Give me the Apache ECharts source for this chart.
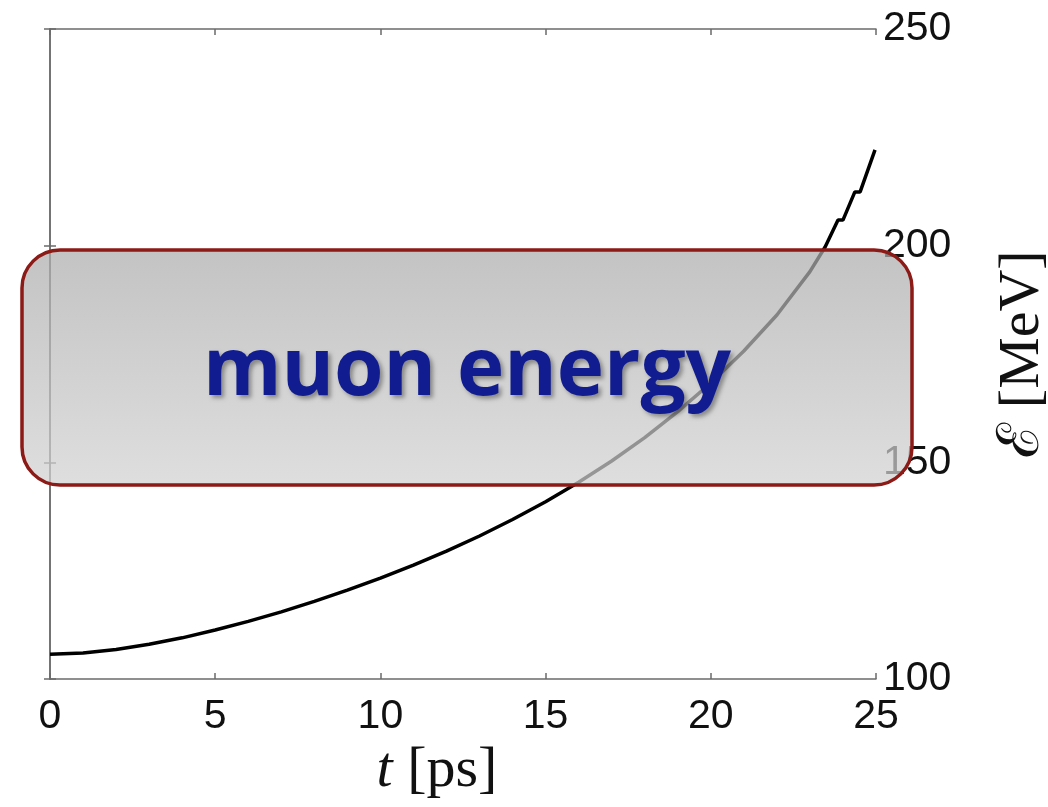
<!DOCTYPE html>
<html>
<head>
<meta charset="utf-8">
<title>muon energy</title>
<script src="https://cdn.jsdelivr.net/npm/echarts@6/dist/echarts.min.js"></script>
<style>
  html, body { margin: 0; padding: 0; background: #ffffff; }
  #chart { width: 1048px; height: 807px; }
</style>
</head>
<body>
<div id="chart"></div>
<script>
// time axis [ps] and muon energy [MeV]
const timePs = [
  0, 1, 2, 3, 4, 5, 6, 7, 8, 9, 10, 11, 12, 13, 14, 15, 16, 17, 18, 19, 20,
  21, 22, 23, 23.46, 23.85, 24.0, 24.36, 24.52, 24.97
];
const energyMeV = [
  105.7, 106.0, 106.8, 108.0, 109.5, 111.3, 113.3, 115.5, 117.9, 120.5, 123.3,
  126.3, 129.5, 133.0, 136.8, 140.9, 145.4, 150.3, 155.7, 161.7, 168.3,
  175.7, 184.0, 194.0, 199.7, 205.9, 205.9, 212.4, 212.4, 222.1
];
const xTicks = [0, 5, 10, 15, 20, 25];
const yTicks = [100, 150, 200, 250];
const bannerText = 'muon energy';

const points = timePs.map((t, i) => [t, energyMeV[i]]);

const chart = echarts.init(document.getElementById('chart'), null, { renderer: 'canvas' });

const axisLine = { show: true, lineStyle: { color: '#6b6b6b', width: 1.5 } };
const axisTick = { show: true, inside: true, length: 6, lineStyle: { color: '#6b6b6b', width: 1.5 } };

chart.setOption({
  animation: false,
  backgroundColor: '#ffffff',
  grid: { left: 50, right: 172, top: 29, bottom: 128, containLabel: false, outerBoundsMode: 'none' },
  xAxis: [
    {
      type: 'value', position: 'bottom', min: xTicks[0], max: xTicks[xTicks.length - 1], interval: 5,
      axisLine, axisTick, splitLine: { show: false },
      axisLabel: { color: '#111', fontSize: 41, fontFamily: 'Liberation Sans, Arial, sans-serif', margin: 17 },
      name: '{it|t} [ps]',
      nameLocation: 'middle', nameGap: 58,
      nameTextStyle: {
        fontFamily: 'Liberation Serif, DejaVu Serif, serif', fontSize: 58, color: '#111',
        padding: [0, 52, 0, 0],
        rich: { it: { fontFamily: 'Liberation Serif, DejaVu Serif, serif', fontStyle: 'italic', fontSize: 58, color: '#111' } }
      }
    },
    {
      type: 'value', position: 'top', min: xTicks[0], max: xTicks[xTicks.length - 1], interval: 5,
      axisLine, axisTick, axisLabel: { show: false }, splitLine: { show: false }
    }
  ],
  yAxis: [
    {
      type: 'value', position: 'right', min: yTicks[0], max: yTicks[yTicks.length - 1], interval: 50,
      axisLine, axisTick, splitLine: { show: false },
      axisLabel: { color: '#111', fontSize: 41, fontFamily: 'Liberation Sans, Arial, sans-serif', margin: 7 },
      name: 'ℰ [MeV]',
      nameLocation: 'middle', nameGap: 118, nameRotate: 90,
      nameTextStyle: { fontFamily: 'Liberation Serif, DejaVu Serif, serif', fontSize: 58, color: '#111' }
    },
    {
      type: 'value', position: 'left', min: yTicks[0], max: yTicks[yTicks.length - 1], interval: 50,
      axisLine, axisTick, axisLabel: { show: false }, splitLine: { show: false }
    }
  ],
  series: [
    {
      type: 'line', xAxisIndex: 0, yAxisIndex: 0,
      data: points, showSymbol: false, smooth: false,
      lineStyle: { color: '#000', width: 3.5 }
    }
  ],
  graphic: [
    {
      type: 'rect', z: 100,
      shape: { x: 22, y: 250, width: 890, height: 235, r: 38 },
      style: {
        fill: new echarts.graphic.LinearGradient(0, 0, 0, 1, [
          { offset: 0, color: 'rgba(172,172,172,0.72)' },
          { offset: 1, color: 'rgba(210,210,210,0.72)' }
        ]),
        stroke: '#8c1a16', lineWidth: 3.5
      }
    },
    {
      type: 'text', z: 101,
      x: 467, y: 372,
      style: {
        text: bannerText,
        font: 'bold 80px "Open Sans", Lato, sans-serif',
        fill: '#101c8f',
        align: 'center', verticalAlign: 'middle',
        textShadowColor: 'rgba(0,0,0,0.35)', textShadowBlur: 4,
        textShadowOffsetX: 3, textShadowOffsetY: 3
      }
    }
  ]
});
</script>
</body>
</html>
